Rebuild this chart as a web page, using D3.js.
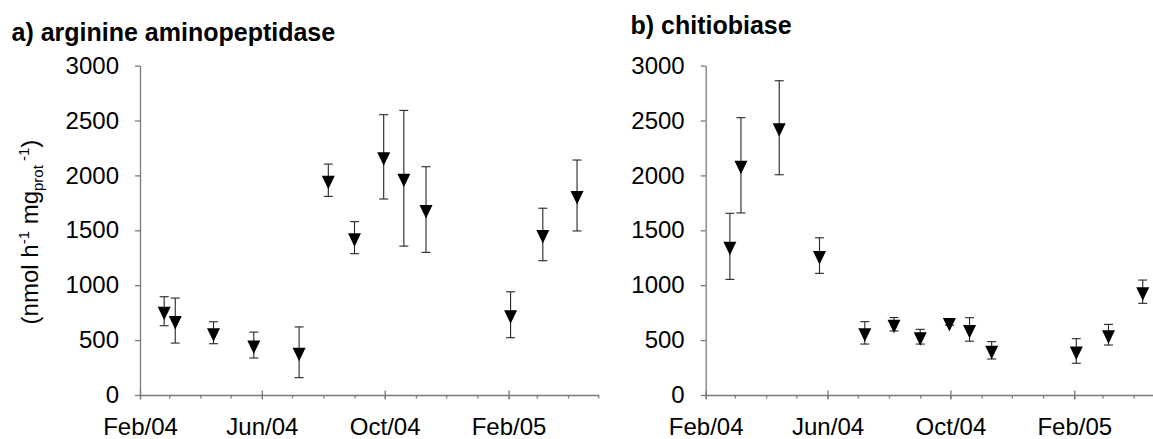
<!DOCTYPE html>
<html>
<head>
<meta charset="utf-8">
<script src="https://cdn.jsdelivr.net/npm/d3@7/dist/d3.min.js"></script>
<style>
  html, body { margin: 0; padding: 0; background: #fff; }
  svg { display: block; }
  text { font-family: "Liberation Sans", Arial, sans-serif; fill: #000; }
</style>
</head>
<body>
<svg id="chart" width="1153" height="439"></svg>
<script>
// Sampling dates shared by both enzymes
const sampleDates = [
  "2004-02-25", "2004-03-07", "2004-04-14", "2004-05-24", "2004-07-08",
  "2004-08-06", "2004-09-01", "2004-09-30", "2004-10-20", "2004-11-11",
  "2005-02-03", "2005-03-07", "2005-04-10"
];

// a) arginine aminopeptidase, mean and SD (nmol h-1 mg_prot-1)
const argMean = [763, 678, 567, 455, 389, 1956, 1433, 2169, 1974, 1689, 731, 1462, 1817];
const argSd   = [132, 205, 100, 118, 231, 147, 146, 384, 618, 390, 209, 239, 323];

// b) chitobiase, mean and SD
const chiMean = [1354, 2092, 2434, 1270, 566, 644, 531, 660, 597, 407, 401, 549, 941];
const chiSd   = [301, 434, 428, 162, 102, 61, 67, 25, 107, 79, 112, 94, 106];

const yTicks = [0, 500, 1000, 1500, 2000, 2500, 3000];
const majorTicks = ["2004-02-01", "2004-06-01", "2004-10-01", "2005-02-01"];
const axisStart = "2004-02-01";
const axisEnd = "2005-05-01";

const parse = d3.utcParse("%Y-%m-%d");
const fmt = d3.utcFormat("%b/%y");

const svg = d3.select("#chart");
svg.append("rect").attr("width", 1153).attr("height", 439).attr("fill", "#fff");

const axisColor = "#7a7a7a";
const plotTop = 65.6, plotBottom = 395, plotWidth = 458.2;

function drawPanel(x0, title, titleX, titleY, means, sds) {
  const g = svg.append("g");
  const x = d3.scaleUtc().domain([parse(axisStart), parse(axisEnd)]).range([x0, x0 + plotWidth]);
  const y = d3.scaleLinear().domain([0, 3000]).range([plotBottom, plotTop]);

  // y axis
  const yAxis = g.append("g")
    .attr("transform", `translate(${x0},0)`)
    .call(d3.axisLeft(y).tickValues(yTicks).tickSize(5).tickSizeOuter(0).tickPadding(16).tickFormat(d3.format("d")));
  yAxis.select(".domain").attr("stroke", axisColor).attr("stroke-width", 1.3);
  yAxis.selectAll(".tick line").attr("stroke", axisColor).attr("stroke-width", 1.3);
  yAxis.selectAll(".tick text").attr("font-size", 24).attr("font-family", "Liberation Sans, Arial, sans-serif");

  // minor month ticks
  const minor = d3.utcMonth.range(parse(axisStart), d3.utcDay.offset(parse(axisEnd), 1));
  const xMinor = g.append("g")
    .attr("transform", `translate(0,${plotBottom})`)
    .call(d3.axisBottom(x).tickValues(minor).tickSize(3.5).tickSizeOuter(0).tickFormat(""));
  xMinor.select(".domain").attr("stroke", axisColor).attr("stroke-width", 1.3);
  xMinor.selectAll(".tick line").attr("stroke", axisColor).attr("stroke-width", 1.3);

  // major ticks crossing the axis, with labels
  const xMajor = g.append("g")
    .attr("transform", `translate(0,${plotBottom})`)
    .call(d3.axisBottom(x).tickValues(majorTicks.map(parse)).tickSize(4.5).tickSizeOuter(0).tickPadding(18.5).tickFormat(fmt));
  xMajor.select(".domain").remove();
  xMajor.selectAll(".tick line").attr("y1", -4.5).attr("stroke", axisColor).attr("stroke-width", 1.3);
  xMajor.selectAll(".tick text").attr("font-size", 24).attr("font-family", "Liberation Sans, Arial, sans-serif");

  // error bars
  const data = sampleDates.map((d, i) => ({ date: parse(d), m: means[i], s: sds[i] }));
  const capHalf = 4.5;
  const eb = g.append("g").attr("stroke", "#262626").attr("stroke-width", 1.1).attr("fill", "none");
  data.forEach(d => {
    const cx = x(d.date);
    eb.append("line").attr("x1", cx).attr("x2", cx).attr("y1", y(d.m + d.s)).attr("y2", y(d.m - d.s));
    eb.append("line").attr("x1", cx - capHalf).attr("x2", cx + capHalf).attr("y1", y(d.m + d.s)).attr("y2", y(d.m + d.s));
    eb.append("line").attr("x1", cx - capHalf).attr("x2", cx + capHalf).attr("y1", y(d.m - d.s)).attr("y2", y(d.m - d.s));
  });

  // downward triangle markers, centred on their centroid
  const tri = "M-6.5,-4.5L6.5,-4.5L0,9Z";
  g.append("g").selectAll("path")
    .data(data)
    .join("path")
    .attr("d", tri)
    .attr("fill", "#000")
    .attr("transform", d => `translate(${x(d.date)},${y(d.m)})`);

  // panel title
  svg.append("text")
    .attr("x", titleX).attr("y", titleY)
    .attr("font-size", 25).attr("font-weight", "bold")
    .text(title);
}

drawPanel(140, "a) arginine aminopeptidase", 11.5, 40.7, argMean, argSd);
drawPanel(705.7, "b) chitiobiase", 630.5, 34.3, chiMean, chiSd);

// y-axis unit label
const yl = svg.append("text")
  .attr("transform", "translate(37.5,232) rotate(-90)")
  .attr("text-anchor", "middle")
  .attr("font-size", 24);
yl.append("tspan").text("(nmol h");
yl.append("tspan").attr("font-size", 15).attr("dy", -9).text("-1");
yl.append("tspan").attr("dy", 9).text(" mg");
yl.append("tspan").attr("font-size", 15).attr("dy", 5).text("prot");
yl.append("tspan").attr("font-size", 15).attr("dy", -14).text(" -1");
yl.append("tspan").attr("dy", 9).text(")");
</script>
</body>
</html>
